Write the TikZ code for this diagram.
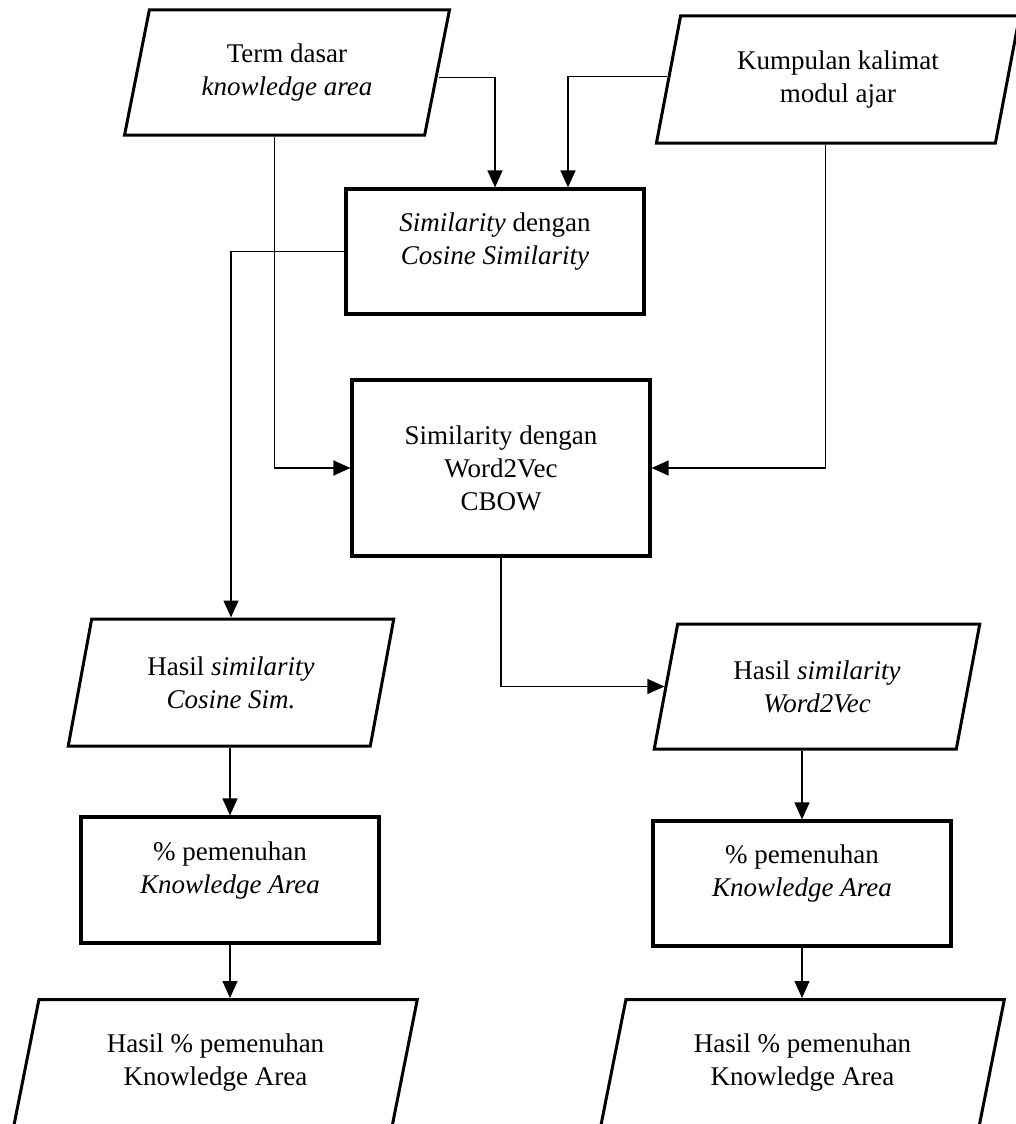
\documentclass[tikz,border=0pt]{standalone}
\usepackage{fontspec}
\setmainfont{Liberation Serif}
\usetikzlibrary{shapes.geometric,arrows.meta}

\tikzset{
  procbox/.style={draw, line width=3.2pt, minimum width=298pt, minimum height=125pt, align=center},
  iobox/.style={draw, line width=3pt, trapezium, trapezium left angle=76, trapezium right angle=104,
    trapezium stretches=true, minimum width=326pt, minimum height=125pt, align=center},
  flow/.style={line width=1.3pt, -{Triangle[length=17pt,width=15pt]}},
}
\newcommand{\raisedtext}[1]{\raisebox{10pt}[\height][\depth]{\begin{tabular}{@{}c@{}}#1\end{tabular}}}

\begin{document}
\begin{tikzpicture}[x=1pt,y=-1pt,font=\fontsize{27}{33}\selectfont]
    \useasboundingbox (0,0) rectangle (1016,1124);
    \clip (0,0) rectangle (1016,1124);
    % Input data
    \node[iobox] (term) at (287,72.5) {Term dasar\\\textit{knowledge area}};
    \node[iobox, minimum width=364pt, minimum height=127pt] (kalimat) at (838,79.5) {Kumpulan kalimat\\modul ajar};
    % Similarity processes
    \node[procbox] (cosine) at (495,251.5) {\raisedtext{\textit{Similarity} dengan\\\textit{Cosine Similarity}}};
    \node[procbox, minimum height=176pt] (w2v) at (501,468) {Similarity dengan\\Word2Vec\\CBOW};
    % Similarity results
    \node[iobox, minimum height=127pt] (hcos) at (231,682.5) {Hasil \textit{similarity}\\\textit{Cosine Sim.}};
    \node[iobox] (hw2v) at (817,686.5) {Hasil \textit{similarity}\\\textit{Word2Vec}};
    % Knowledge area coverage
    \node[procbox, minimum height=126pt] (pcos) at (230,880) {\raisedtext{\% pemenuhan\\\textit{Knowledge Area}}};
    \node[procbox] (pw2v) at (802,883.5) {\raisedtext{\% pemenuhan\\\textit{Knowledge Area}}};
    \node[iobox, minimum width=405pt, minimum height=127pt] (kacos) at (215.5,1063) {Hasil \% pemenuhan\\Knowledge Area};
    \node[iobox, minimum width=405pt, minimum height=127pt] (kaw2v) at (802.5,1063) {Hasil \% pemenuhan\\Knowledge Area};
    % Connectors
    \draw[flow] ([yshift=-5pt]term.east) -| (cosine.north);
    \draw[flow] ([yshift=3pt]kalimat.west) -| ([xshift=73pt]cosine.north);
    \draw[flow] (term.bottom side) |- (w2v.west);
    \draw[flow] (kalimat.bottom side) |- (w2v.east);
    \draw[flow] (cosine.west) -| (hcos.center |- hcos.top side);
    \draw[flow] (w2v.south) |- (hw2v.left side);
    \draw[flow] (pcos.north |- hcos.bottom side) -- (pcos.north);
    \draw[flow] (pw2v.north |- hw2v.bottom side) -- (pw2v.north);
    \draw[flow] (pcos.south) -- (pcos.south |- kacos.top side);
    \draw[flow] (pw2v.south) -- (pw2v.south |- kaw2v.top side);
\end{tikzpicture}
\end{document}
